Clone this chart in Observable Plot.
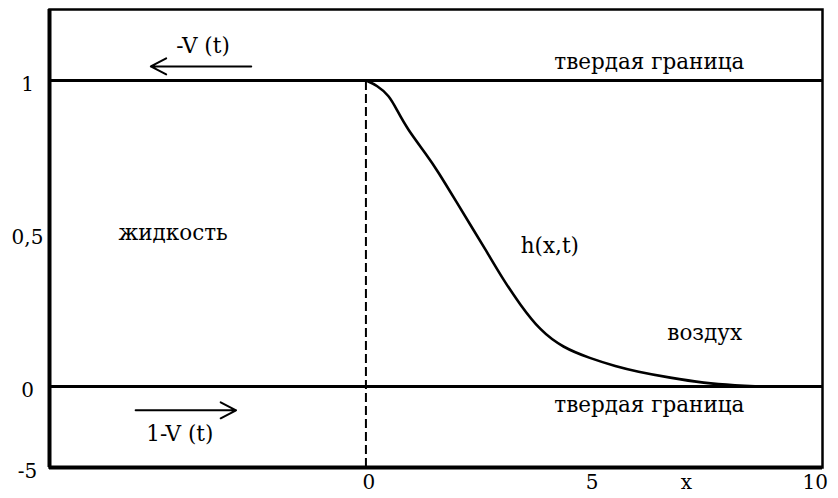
<!DOCTYPE html>
<html>
<head>
<meta charset="utf-8">
<script src="https://cdn.jsdelivr.net/npm/d3@7"></script>
<script src="https://cdn.jsdelivr.net/npm/@observablehq/plot@0.6"></script>
<style>
  html, body { margin: 0; padding: 0; background: #fff; }
  svg { display: block; }
</style>
</head>
<body>
<div id="chart"></div>
<script>
// Profile h(x,t)
const curveX = [0, 0.25, 0.52, 0.70, 0.92, 1.37, 1.60, 2.05, 2.39, 2.73, 3.06, 3.45, 3.90, 4.41, 5.02, 5.61, 6.06, 6.82, 7.57, 8.31, 8.8];
const curveY = [1, 0.984, 0.951, 0.902, 0.843, 0.755, 0.706, 0.598, 0.516, 0.435, 0.353, 0.268, 0.183, 0.127, 0.092, 0.065, 0.049, 0.028, 0.011, 0.003, 0];

const xDomain = [-7.09, 10.23];
const yDomain = [-0.265, 1.232];

const boundaries = [1, 0];               // solid boundaries
const yTickValues = [1, 0.5, 0, -0.265];
const yTickLabels = ["1", "0,5", "0", "-5"];
const xTickValues = [0, 5, 10];
const xTickLabels = ["0", "5", "10"];
const xAxisLabel = {x: 7.18, text: "x"};

const notes = [
  {x: -3.65, y: 1.111, text: "-V (t)"},
  {x: 6.35, y: 1.059, text: "твердая граница"},
  {x: -4.32, y: 0.50, text: "жидкость"},
  {x: 4.12, y: 0.458, text: "h(x,t)"},
  {x: 7.59, y: 0.173, text: "воздух"},
  {x: 6.35, y: -0.062, text: "твердая граница"},
  {x: -4.17, y: -0.157, text: "1-V (t)"}
];
const arrows = [
  {x1: -2.57, x2: -4.82, y: 1.046},
  {x1: -5.16, x2: -2.91, y: -0.078}
];

const curve = curveX.map((x, i) => ({x, y: curveY[i]}));
const yTicks = yTickValues.map((v, i) => ({y: v, label: yTickLabels[i]}));
const xTicks = xTickValues.map((v, i) => ({x: v, label: xTickLabels[i]}));

const font = "DejaVu Serif";
const fs = 21.5;
const nfs = 20;

const chart = Plot.plot({
  width: 838,
  height: 498,
  marginLeft: 49,
  marginRight: 16,
  marginTop: 9,
  marginBottom: 31,
  style: {fontFamily: font, background: "#fff", color: "#000"},
  x: {domain: xDomain, axis: null},
  y: {domain: yDomain, axis: null},
  marks: [
    Plot.frame({stroke: "#000", strokeWidth: 2.5}),
    Plot.ruleX([xDomain[0]], {stroke: "#000", strokeWidth: 4}),
    Plot.ruleY([yDomain[0]], {stroke: "#000", strokeWidth: 4}),
    Plot.ruleY(boundaries, {stroke: "#000", strokeWidth: 3}),
    Plot.ruleX([0], {y1: yDomain[0], y2: 1, stroke: "#000", strokeWidth: 2, strokeDasharray: "9,4"}),
    Plot.line(curve, {x: "x", y: "y", curve: "basis", stroke: "#000", strokeWidth: 2.6}),
    Plot.arrow(arrows, {x1: "x1", x2: "x2", y1: "y", y2: "y", stroke: "#000", strokeWidth: 2, headLength: 13, headAngle: 55}),
    Plot.text(notes, {x: "x", y: "y", text: "text", fontSize: fs, fill: "#000"}),
    Plot.text(yTicks, {y: "y", text: "label", frameAnchor: "left", dx: -22, dy: 4, textAnchor: "middle", fontSize: nfs, fill: "#000"}),
    Plot.text(xTicks, {x: "x", text: "label", frameAnchor: "bottom", dy: 21, dx: 3, fontSize: nfs, fill: "#000"}),
    Plot.text([xAxisLabel], {x: "x", text: "text", frameAnchor: "bottom", dy: 21, fontSize: nfs, fill: "#000"})
  ]
});
document.getElementById("chart").appendChild(chart);
</script>
</body>
</html>
